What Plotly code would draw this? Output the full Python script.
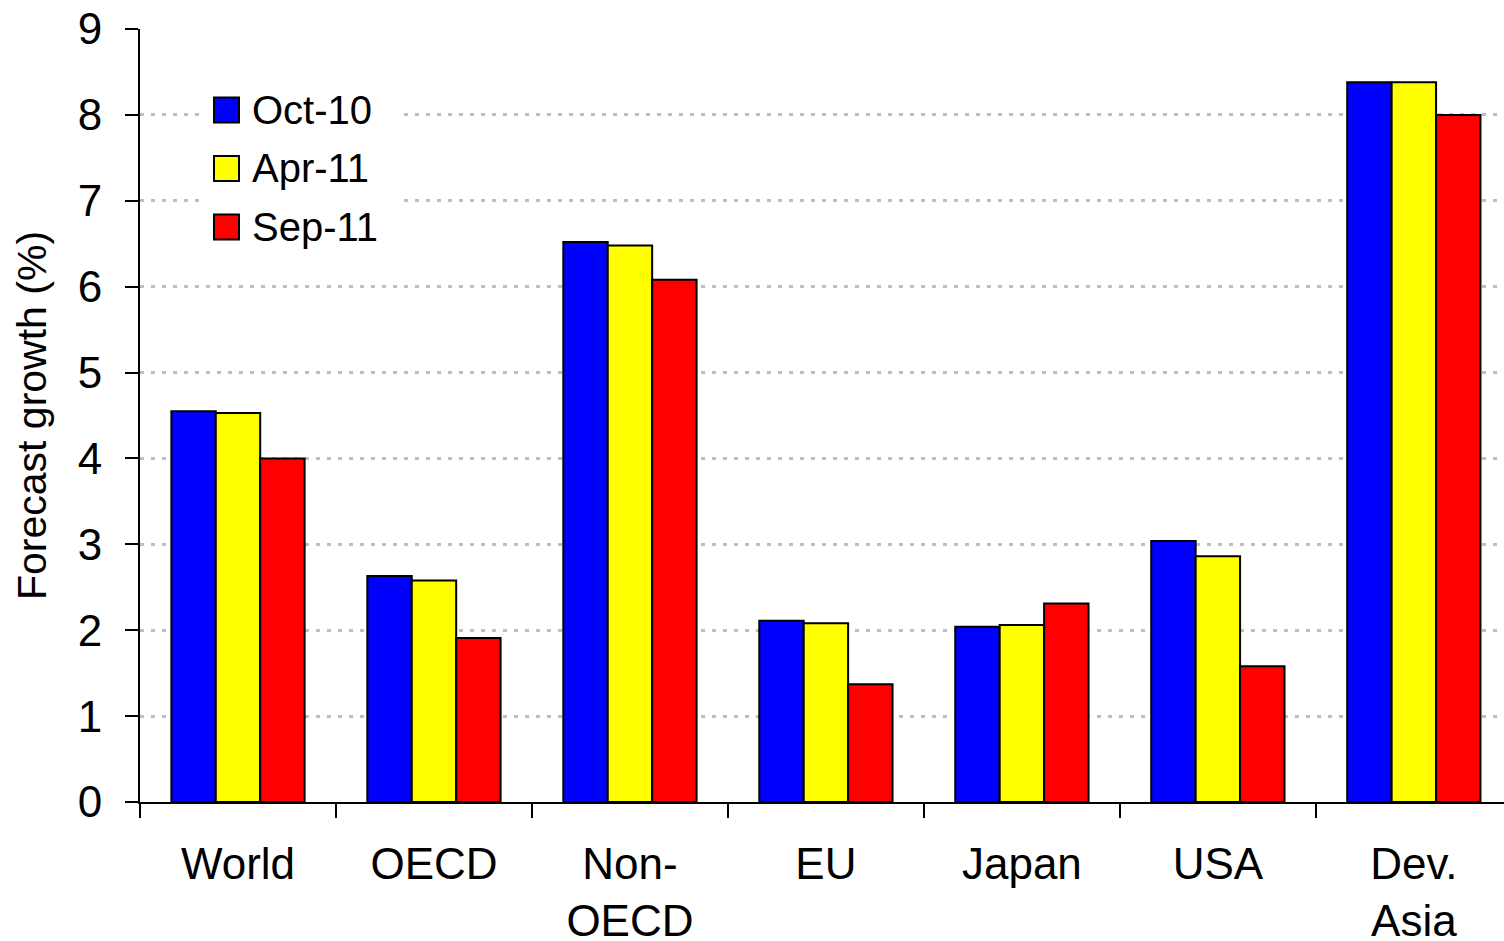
import plotly.graph_objects as go

categories = ["World", "OECD", "Non-<br>OECD", "EU", "Japan", "USA", "Dev.<br>Asia"]
oct10 = [4.55, 2.63, 6.52, 2.11, 2.04, 3.04, 8.38]
apr11 = [4.53, 2.58, 6.48, 2.08, 2.06, 2.86, 8.38]
sep11 = [4.00, 1.91, 6.08, 1.37, 2.31, 1.58, 8.00]
series_names = ["Oct-10", "Apr-11", "Sep-11"]
colors = ["#0000FF", "#FFFF00", "#FF0000"]

W, H = 1504, 941
ML, MR, MT, MB = 140, 0, 29, 139
PW, PH = W - ML - MR, H - MT - MB

def px(x):
    return (x - ML) / PW

def py(y):
    return (H - MB - y) / PH

fig = go.Figure()
for name, vals, col in zip(series_names, [oct10, apr11, sep11], colors):
    fig.add_trace(go.Bar(x=categories, y=vals, name=name, showlegend=False,
                         marker=dict(color=col, line=dict(color="black", width=2))))

# custom legend (large square swatches)
shapes = [dict(type="rect", xref="paper", yref="paper", layer="above",
               x0=px(200), x1=px(402), y0=py(80), y1=py(256),
               fillcolor="white", line=dict(width=0))]
annotations = []
for i, (name, col) in enumerate(zip(series_names, colors)):
    cy = 110 + i * 58.5
    shapes.append(dict(type="rect", xref="paper", yref="paper", layer="above",
                       x0=px(214), x1=px(239), y0=py(cy + 12.5), y1=py(cy - 12.5),
                       fillcolor=col, line=dict(color="black", width=2)))
    annotations.append(dict(text=name, xref="paper", yref="paper", x=px(250), y=py(cy),
                            xanchor="left", yanchor="middle", showarrow=False,
                            font=dict(size=40, color="black")))

fig.update_layout(
    width=W, height=H,
    margin=dict(l=ML, r=MR, t=MT, b=MB),
    barmode="group", bargap=0.32, bargroupgap=0,
    plot_bgcolor="white", paper_bgcolor="white",
    font=dict(family="Liberation Sans, Arial", size=40, color="black"),
    showlegend=False,
    shapes=shapes, annotations=annotations,
)
fig.update_xaxes(range=[-0.5, 6.46], automargin=False,
                 showline=True, linecolor="black", linewidth=2,
                 ticks="outside", tickson="boundaries", ticklen=14, tickcolor="black",
                 tickwidth=2, showgrid=False, tickfont=dict(size=44),
                 ticklabelstandoff=22)
fig.update_yaxes(range=[0, 9], dtick=1, automargin=False,
                 showline=True, linecolor="black", linewidth=2,
                 ticks="outside", ticklen=13, tickcolor="black", tickwidth=2,
                 showgrid=True, gridcolor="#BFBFBF", griddash="4px,7px", gridwidth=2.5,
                 zeroline=False, tickfont=dict(size=44), ticklabelstandoff=14,
                 title=dict(text="Forecast growth (%)", font=dict(size=41), standoff=18))
fig.write_html("out.html")
